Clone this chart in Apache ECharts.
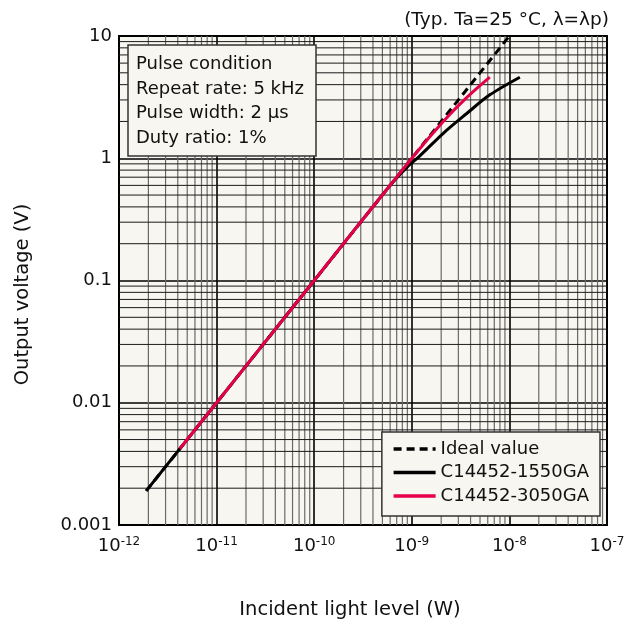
<!DOCTYPE html>
<html><head><meta charset="utf-8">
<script src="https://cdn.jsdelivr.net/npm/echarts@6/dist/echarts.min.js"></script>
<style>html,body{margin:0;padding:0;background:#fff}#c{width:630px;height:628px}</style>
</head><body><div id="c"></div>
<script>
// Data
const idealP = [1.9e-12, 1e-8];
const idealV = [0.0019, 10];
const c1550P = [1.9e-12, 1e-10, 6e-10, 9e-10, 1.2e-9, 2.1e-9, 3.6e-9, 6.3e-9, 1.28e-8];
const c1550V = [0.0019, 0.1, 0.6, 0.85, 1.04, 1.6, 2.3, 3.3, 4.6];
const c3050P = [4.2e-12, 1e-10, 1e-9, 2.1e-9, 3.6e-9, 6.3e-9];
const c3050V = [0.0042, 0.1, 1.0, 2.0, 3.1, 4.6];
const yTickLabels = ['0.001', '0.01', '0.1', '1', '10'];
const seriesNames = ['Ideal value', 'C14452-1550GA', 'C14452-3050GA'];
const noteLines = ['Pulse condition', 'Repeat rate: 5 kHz', 'Pulse width: 2 μs', 'Duty ratio: 1%'];
const condText = '(Typ. Ta=25 °C, λ=λp)';

const FONT = 'DejaVu Sans';
const FS = 18;
const zip = (a, b) => a.map((v, i) => [v, b[i]]);

// minor grid positions (2..9 x 10^k), drawn as broken line series
const minorXData = [], minorYData = [];
for (let e = -12; e < -7; e++) for (let m = 2; m <= 9; m++) {
  const v = m * Math.pow(10, e);
  minorXData.push([v, 0.001], [v, 10], [v, '-']);
}
for (let e = -3; e < 1; e++) for (let m = 2; m <= 9; m++) {
  const v = m * Math.pow(10, e);
  minorYData.push([1e-12, v], [1e-7, v], ['-', v]);
}

const chart = echarts.init(document.getElementById('c'));
chart.setOption({
  animation: false,
  backgroundColor: '#fff',
  textStyle: { fontFamily: FONT },
  title: [
    { text: condText, right: 16, top: 6, textStyle: { fontFamily: FONT, fontSize: 18.5, fontWeight: 'normal', color: '#111' } },
    { text: noteLines.join('\n'), left: 128, top: 45, padding: [7, 9, 6, 8],
      backgroundColor: '#f7f6f0', borderColor: '#333', borderWidth: 1.5,
      textStyle: { fontFamily: FONT, fontSize: FS, fontWeight: 'normal', color: '#111', lineHeight: 24.6, width: 171 } }
  ],
  legend: {
    orient: 'vertical', right: 30, bottom: 112,
    backgroundColor: '#f7f6f0', borderColor: '#333', borderWidth: 1.5,
    padding: [8, 11, 11, 10], itemGap: 5.5, itemWidth: 42, itemHeight: 14,
    textStyle: { fontFamily: FONT, fontSize: FS, color: '#111' },
    itemStyle: { opacity: 0 },
    lineStyle: { width: 3.5 },
    data: seriesNames
  },
  grid: { left: 119, right: 23, top: 36, bottom: 103, containLabel: false, outerBoundsMode: 'none',
    show: true, backgroundColor: '#f7f6f0', borderColor: '#000', borderWidth: 2 },
  xAxis: {
    type: 'log', logBase: 10, min: 1e-12, max: 1e-7,
    name: 'Incident light level (W)', nameLocation: 'middle', nameGap: 75,
    nameTextStyle: { fontFamily: FONT, fontSize: 19.5, color: '#111', padding: [0, 26, 0, 0] },
    axisLine: { lineStyle: { color: '#000', width: 2 } },
    axisTick: { show: false },
    axisLabel: {
      margin: 11, color: '#111', fontSize: FS,
      formatter: v => '10{s|' + Math.round(Math.log10(v)) + '}',
      rich: { s: { fontSize: 12, verticalAlign: 'top', padding: [0, 0, 9, 0], color: '#111' } }
    },
    splitLine: { show: true, lineStyle: { color: '#000', width: 1.6 } }
  },
  yAxis: {
    type: 'log', logBase: 10, min: 0.001, max: 10,
    name: 'Output voltage (V)', nameLocation: 'middle', nameGap: 86, nameRotate: 90,
    nameTextStyle: { fontFamily: FONT, fontSize: 19.5, color: '#111', padding: [0, 28, 0, 0] },
    axisLine: { lineStyle: { color: '#000', width: 2 } },
    axisTick: { show: false },
    axisLabel: { margin: 7, color: '#111', fontSize: FS,
      formatter: v => yTickLabels[Math.round(Math.log10(v)) + 3] },
    splitLine: { show: true, lineStyle: { color: '#000', width: 1.6 } }
  },
  series: [
    { type: 'line', name: '_gx', data: minorXData, silent: true, z: 1, showSymbol: false, symbol: 'none', connectNulls: false,
      lineStyle: { color: '#6a6a6a', width: 1.2 } },
    { type: 'line', name: '_gy', data: minorYData, silent: true, z: 1, showSymbol: false, symbol: 'none', connectNulls: false,
      lineStyle: { color: '#1a1a1a', width: 1 } },
    { type: 'line', name: seriesNames[0], data: zip(idealP, idealV), showSymbol: false, symbol: 'none', z: 3,
      lineStyle: { color: '#000', width: 3, type: [8, 5] }, itemStyle: { color: '#000' } },
    { type: 'line', name: seriesNames[1], data: zip(c1550P, c1550V), showSymbol: false, symbol: 'none', smooth: 0.3, z: 4,
      lineStyle: { color: '#000', width: 3 }, itemStyle: { color: '#000' } },
    { type: 'line', name: seriesNames[2], data: zip(c3050P, c3050V), showSymbol: false, symbol: 'none', smooth: 0.3, z: 5,
      lineStyle: { color: '#e6004c', width: 3 }, itemStyle: { color: '#e6004c' } }
  ]
});
</script></body></html>
